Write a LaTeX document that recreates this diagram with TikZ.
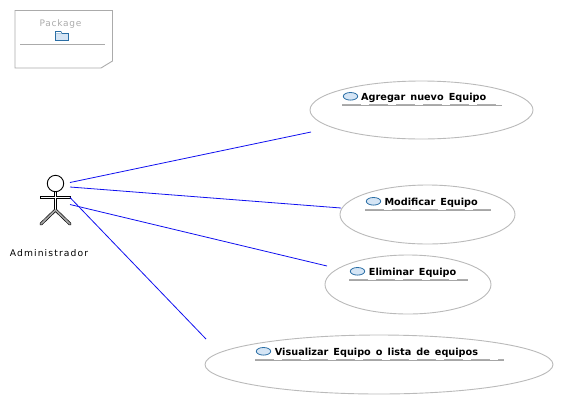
\documentclass[tikz,border=0pt]{standalone}
\usepackage{fontspec}
\usetikzlibrary{shapes.geometric}
\setmainfont{DejaVu Sans}
\newfontfamily\lblfont[LetterSpace=8]{DejaVu Sans}
\newfontfamily\actfont[LetterSpace=12]{DejaVu Sans}
\newfontfamily\ucfont[WordSpace=1.5]{DejaVu Sans}
\definecolor{iconline}{HTML}{2A6EA5}
\definecolor{iconfill}{HTML}{D5E5F5}
\definecolor{assocblue}{HTML}{1010F0}
\begin{document}
\begin{tikzpicture}[x=1pt,y=-1pt,
  usecase/.style={draw=black!27,line width=0.9pt,inner sep=0pt,fill=white},
  assoc/.style={draw=assocblue,line width=0.8pt},
  uctitle/.style={anchor=base west,inner sep=0pt,font=\fontsize{9.7}{10}\selectfont\ucfont\bfseries},
  ucicon/.style={draw=iconline,fill=iconfill,line width=0.8pt},
  ulthin/.style={draw=black!35,line width=0.6pt},
  uldash/.style={draw=black!32,line width=1.4pt,dash pattern=on 19pt off 8pt},
  pkg/.style={draw=black!33,line width=0.9pt},
  limb/.style={line width=3pt,draw=black,line cap=round},
  limbin/.style={line width=1.4pt,draw=white,line cap=round},
  legin/.style={line width=1.7pt,draw=black!35,line cap=round}]
\useasboundingbox (0,0) rectangle (564,405);
% package
\draw[pkg] (15,10.5) -- (112.5,10.5) -- (112.5,61) -- (101,68) -- (15,68) -- cycle;
\draw[pkg] (20,44.5) -- (105,44.5);
\node[anchor=base,inner sep=0pt,text=black!33,font=\fontsize{9}{10}\selectfont\lblfont] (pkgname) at (60.5,26) {Package};
\draw[draw=iconline,fill=iconfill,line width=0.8pt] (55.5,33.5) rectangle (68.5,40.5);
\draw[draw=iconline,fill=white,line width=0.6pt] (55.5,33.5) -- (55.5,31.5) -- (61,31.5) -- (62,33.5);
% actor
\node[minimum width=32pt,minimum height=50pt,inner sep=0pt] (actor) at (55.5,200) {};
\draw[limb,line width=2.6pt] (55.5,191) -- (55.5,210);
\draw[limb] (41,224) -- (55.5,210) -- (70,224);
\draw[limb,line cap=butt] (40,197.5) -- (71,197.5);
\draw[limbin,line cap=butt] (41,197.5) -- (70,197.5);
\draw[limbin,line width=1.2pt,line cap=butt] (55.5,191) -- (55.5,210);
\draw[legin,line join=round] (41,224) -- (55.5,210) -- (70,224);
\draw[line width=0.9pt,fill=white] (55.5,183.5) circle (8.2);
\node[anchor=base,inner sep=0pt,font=\fontsize{9.2}{10}\selectfont\actfont] (actorname) at (49,256) {Administrador};
% use cases
\node[usecase,ellipse,minimum width=223pt,minimum height=58pt] (uc1) at (421.5,110) {};
\node[usecase,ellipse,minimum width=175pt,minimum height=59pt] (uc2) at (427.5,214.5) {};
\node[usecase,ellipse,minimum width=166pt,minimum height=59pt] (uc3) at (408,284.5) {};
\node[usecase,ellipse,minimum width=348pt,minimum height=59pt] (uc4) at (379,364.5) {};
% icons
\draw[ucicon] (350.5,96.3) ellipse (7.2 and 3.8);
\draw[ucicon] (373.5,201.3) ellipse (7.2 and 3.8);
\draw[ucicon] (357.5,271.3) ellipse (7.2 and 3.8);
\draw[ucicon] (263.5,351.3) ellipse (7.2 and 3.8);
% titles
\node[uctitle] (t1) at (361,100) {Agregar nuevo Equipo};
\node[uctitle] (t2) at (384.3,205) {Modificar Equipo};
\node[uctitle] (t3) at (368.7,275) {Eliminar Equipo};
\node[uctitle] (t4) at (274.7,355) {Visualizar Equipo o lista de equipos};
% underlines
\draw[ulthin] (342,105) -- (501.5,105);
\draw[uldash] (342,104.6) -- (501.5,104.6);
\draw[ulthin] (365,210) -- (490.7,210);
\draw[uldash] (365,209.7) -- (490.7,209.7);
\draw[ulthin] (349,280) -- (468,280);
\draw[uldash] (349,279.7) -- (468,279.7);
\draw[ulthin] (255,360) -- (504,360);
\draw[uldash] (255,359.7) -- (504,359.7);
% associations
\draw[assoc] ([shift={(14.5,-17.5)}]actor.center) -- ([shift={(-110.5,22)}]uc1.center);
\draw[assoc] ([shift={(14.5,-13)}]actor.center) -- ([shift={(-86.5,-6.5)}]uc2.center);
\draw[assoc] ([shift={(14.5,4.5)}]actor.center) -- ([shift={(-81,-18.5)}]uc3.center);
\draw[assoc] ([shift={(14.5,-2.5)}]actor.center) -- ([shift={(-173,-25.5)}]uc4.center);
\end{tikzpicture}
\end{document}
